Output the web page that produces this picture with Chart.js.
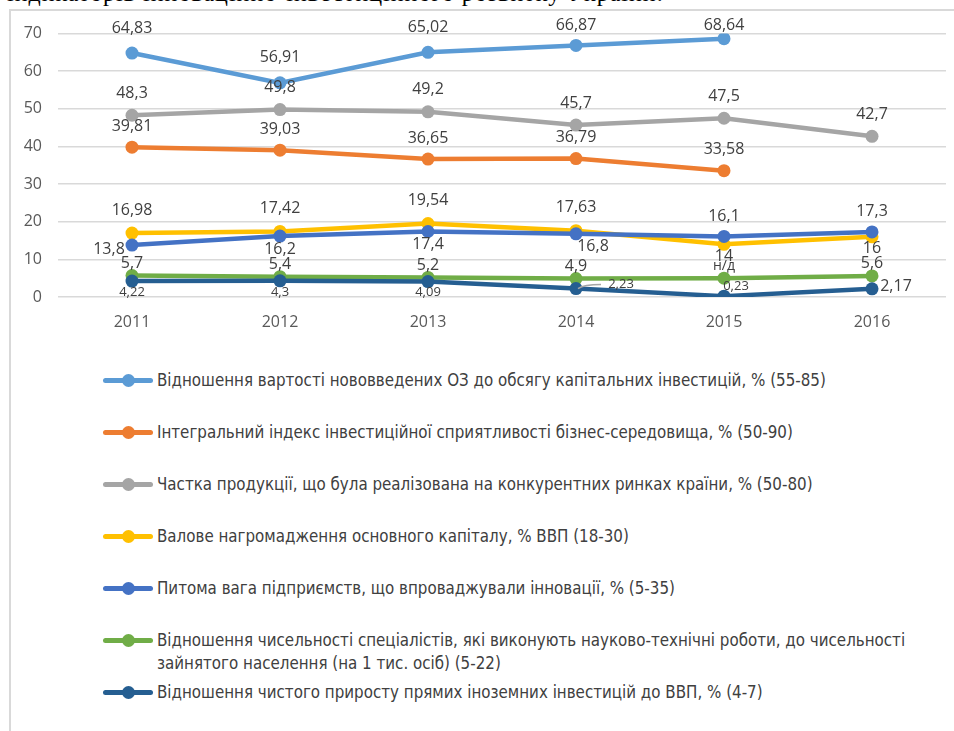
<!DOCTYPE html>
<html>
<head>
<meta charset="utf-8">
<script src="https://cdn.jsdelivr.net/npm/chart.js@4.4.0/dist/chart.umd.min.js"></script>
<style>
  body { margin: 0; width: 954px; height: 731px; overflow: hidden; background: #fff; position: relative; }
  #caption { position: absolute; left: 7px; top: -19px; font: 24px/24px 'Liberation Serif', serif; letter-spacing: 1px; color: #000; white-space: nowrap; }
  #frame { position: absolute; left: 9px; top: 9px; width: 960px; height: 740px; border-left: 2px solid #d9d9d9; border-top: 2px solid #d9d9d9; }
  #wrap { position: absolute; left: 11px; top: 8px; width: 943px; height: 339px; }
  #legend { position: absolute; left: 103px; top: 369px; width: 830px; }
  .item { display: flex; align-items: flex-start; margin-bottom: 29px; }
  .mark { position: relative; width: 50px; height: 23px; flex: none; margin-right: 4px; }
  .mark .ln { position: absolute; left: 0; right: 0; top: 9px; height: 5px; border-radius: 3px; }
  .mark .dot { position: absolute; left: 19px; top: 5px; width: 13px; height: 13px; border-radius: 50%; }
  .txt { font: 16.8px/23px 'DejaVu Sans Condensed', 'Liberation Sans Narrow', 'Open Sans', sans-serif; color: #404040; width: 770px; }
</style>
</head>
<body>
<div id="caption">індикаторів інноваційно-інвестиційного розвитку України.</div>
<div id="frame"></div>
<div id="wrap"><canvas id="chart"></canvas></div>
<div id="legend"></div>
<script>
// Роки
const years = ['2011', '2012', '2013', '2014', '2015', '2016'];

// Значення показників
const ozRatio = [64.83, 56.91, 65.02, 66.87, 68.64, null];
const investIndex = [39.81, 39.03, 36.65, 36.79, 33.58, null];
const marketShare = [48.3, 49.8, 49.2, 45.7, 47.5, 42.7];
const grossCapital = [16.98, 17.42, 19.54, 17.63, 14, 16];
const innovShare = [13.8, 16.2, 17.4, 16.8, 16.1, 17.3];
const specialists = [5.7, 5.4, 5.2, 4.9, 5.0, 5.6];
const fdiRatio = [4.22, 4.3, 4.09, 2.23, 0.23, 2.17];

// Підписи, що відрізняються від значення
const specialistsText = [null, null, null, null, 'н/д', null];

// Назви рядів
const names = [
  'Відношення вартості нововведених ОЗ до обсягу капітальних інвестицій, % (55-85)',
  'Інтегральний індекс інвестиційної сприятливості бізнес-середовища, % (50-90)',
  'Частка продукції, що була реалізована на конкурентних ринках країни, % (50-80)',
  'Валове нагромадження основного капіталу, % ВВП (18-30)',
  'Питома вага підприємств, що впроваджували інновації, % (5-35)',
  'Відношення чисельності спеціалістів, які виконують науково-технічні роботи, до чисельності зайнятого населення (на 1 тис. осіб) (5-22)',
  'Відношення чистого приросту прямих іноземних інвестицій  до ВВП, % (4-7)'
];

const colors = ['#5b9bd5', '#ed7d31', '#a5a5a5', '#ffc000', '#4472c4', '#70ad47', '#255e91'];

// Розташування підписів для кожної точки
const labelPos = [
  ['above', 'above', 'above', 'above', 'above', null],
  ['above', 'above', 'above', 'above', 'above', null],
  ['above', 'above', 'above', 'above', 'above', 'above'],
  ['above', 'above', 'above', 'above', 'below', 'below'],
  ['left', 'below', 'below', 'belowRight', 'above', 'above'],
  ['above', 'above', 'above', 'above', 'above', 'above'],
  ['below', 'below', 'below', 'leader', 'aboveRight', 'right']
];

const allData = [ozRatio, investIndex, marketShare, grossCapital, innovShare, specialists, fdiRatio];
const gaps = [[25, 0], [21, 0], [22, 0], [23, 12], [20, 13], [12, 0], [0, 11]];

const datasets = allData.map((values, i) => ({
  label: names[i],
  data: values,
  borderColor: colors[i],
  backgroundColor: colors[i],
  pointBackgroundColor: colors[i],
  pointBorderWidth: 0,
  pointRadius: 6.5,
  borderWidth: 4.5,
  tension: 0,
  order: allData.length - i,
  labelPos: labelPos[i],
  labelAbove: gaps[i][0],
  labelBelow: gaps[i][1],
  labelText: i === 5 ? specialistsText : null,
  labelSmall: i === 6
}));

// Плагін для підписів значень
const valueLabels = {
  id: 'valueLabels',
  afterDatasetsDraw(chart) {
    const ctx = chart.ctx;
    ctx.save();
    ctx.textAlign = 'center';
    ctx.textBaseline = 'middle';
    chart.data.datasets.forEach((ds, i) => {
      const meta = chart.getDatasetMeta(i);
      meta.data.forEach((pt, j) => {
        const v = ds.data[j];
        if (v === null) return;
        let text = String(v).replace('.', ',');
        if (ds.labelText && ds.labelText[j]) text = ds.labelText[j];
        const pos = ds.labelPos[j];
        let x = pt.x, y = pt.y;
        let size = ds.labelSmall ? 13 : 16;
        if (pos === 'above') y -= ds.labelAbove;
        else if (pos === 'below') y += ds.labelBelow;
        else if (pos === 'left') { x -= 23; y += 4; }
        else if (pos === 'belowRight') { x += 17; y += 13; }
        else if (pos === 'aboveRight') { x += 12; y -= 10; }
        else if (pos === 'right') { x += 24; y -= 2; size = 16; }
        else if (pos === 'leader') {
          x += 45; y -= 4;
          ctx.strokeStyle = '#a5a5a5';
          ctx.lineWidth = 1.5;
          ctx.beginPath();
          ctx.moveTo(pt.x + 2, pt.y);
          ctx.quadraticCurveTo(pt.x + 8, y, x - 20, y);
          ctx.stroke();
        }
        if (ds.labelText && ds.labelText[j]) size = 14;
        y = Math.max(y, chart.chartArea.top - 8);
        ctx.font = size + 'px "Open Sans", sans-serif';
        ctx.fillStyle = '#404040';
        ctx.fillText(text, x, y);
      });
    });
    ctx.restore();
  }
};

const chart = new Chart(document.getElementById('chart'), {
  type: 'line',
  data: { labels: years, datasets },
  options: {
    responsive: true,
    maintainAspectRatio: false,
    animation: false,
    layout: { padding: { top: 0, right: 8, left: 0, bottom: 0 } },
    plugins: {
      legend: { display: false },
      tooltip: { enabled: false }
    },
    scales: {
      x: {
        offset: true,
        grid: { display: false, drawTicks: false },
        border: { display: false },
        ticks: { color: '#595959', font: { family: 'Open Sans', size: 16 }, padding: 16 },
        afterFit(scale) { scale.height = 50; }
      },
      y: {
        min: 0,
        max: 70,
        grid: { color: '#d9d9d9', lineWidth: 1.5, drawTicks: false },
        border: { display: false },
        ticks: { stepSize: 10, color: '#595959', font: { family: 'Open Sans', size: 16 }, padding: 16 },
        afterFit(scale) { scale.width = 47; }
      }
    }
  },
  plugins: [valueLabels]
});

// Легенда з наборів даних
const legend = document.getElementById('legend');
chart.data.datasets.forEach((ds, i) => {
  const item = document.createElement('div');
  item.className = 'item';
  if (i === 5) item.style.marginBottom = '6px';
  item.innerHTML = '<div class="mark"><div class="ln" style="background:' + ds.borderColor + '"></div>' +
    '<div class="dot" style="background:' + ds.borderColor + '"></div></div>' +
    '<div class="txt"></div>';
  item.querySelector('.txt').textContent = ds.label;
  legend.appendChild(item);
});
</script>
</body>
</html>
